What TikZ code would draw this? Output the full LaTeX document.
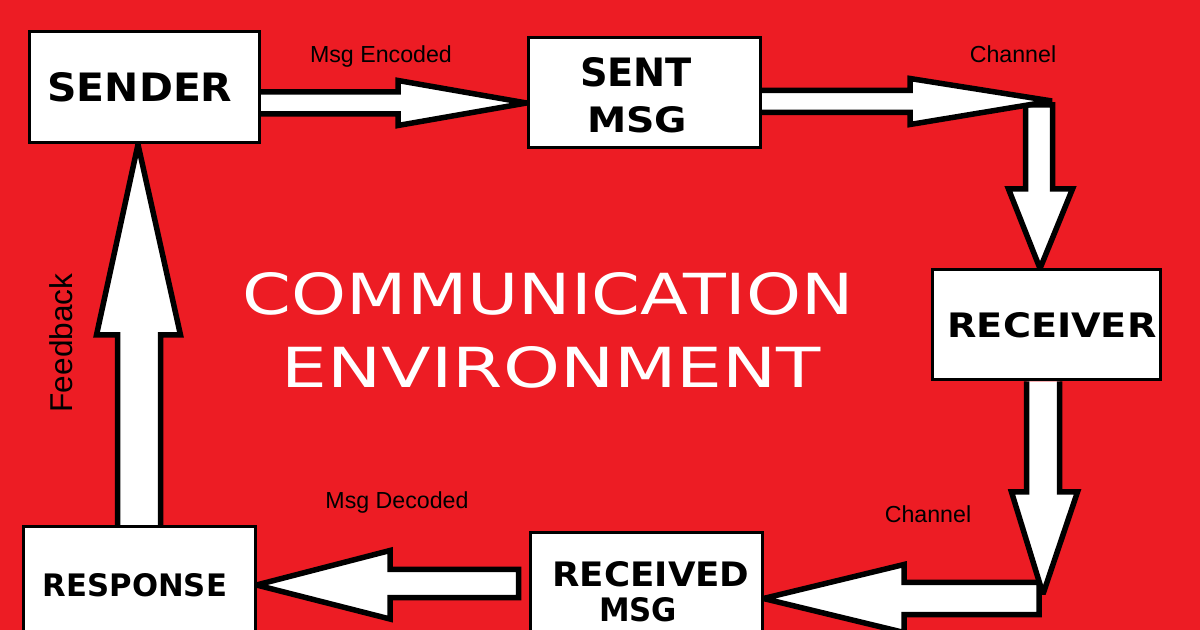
\documentclass[tikz,border=0pt]{standalone}
\usepackage{fontspec}
\setmainfont{Liberation Sans}
\newfontfamily\boxfont{DejaVu Sans}
\newfontfamily\envfont{DejaVu Sans}
\usetikzlibrary{calc,backgrounds}
\definecolor{bgred}{RGB}{237,28,36}
\newcommand\fitword[3]{\resizebox{#1pt}{#2pt}{#3}}
\begin{document}
\begin{tikzpicture}[x=0.5pt,y=-0.5pt,
  box/.style={draw=black,fill=white,line width=1.5pt,inner sep=0pt,rectangle},
  boxtxt/.style={inner sep=0pt,font=\boxfont\bfseries},
  blk/.style={fill=white,draw=black,line width=2.75pt,line join=miter,miter limit=3},
  lbl/.style={inner sep=0pt,font=\fontsize{11.6pt}{13pt}\selectfont},
  fbl/.style={inner sep=0pt,font=\fontsize{15.8pt}{18pt}\selectfont},
  envtxt/.style={inner sep=0pt,text=white,font=\envfont}]
\useasboundingbox (0,0) rectangle (1200,630);

% boxes
\node[box,minimum width=115pt,minimum height=55.5pt] (sender) at (144,87.5) {};
\node[boxtxt] (sendertxt) at (140,87.5) {\fitword{92.5}{14.5}{SENDER}};
\node[box,minimum width=116pt,minimum height=55pt] (sent) at (644,93) {};
\node[boxtxt] (senttop) at (636,72.5) {\fitword{56}{14.5}{SENT}};
\node[boxtxt] (sentbot) at (637,120) {\fitword{50}{13}{MSG}};
\node[box,minimum width=114pt,minimum height=55pt] (receiver) at (1046,325) {};
\node[boxtxt] (receivertxt) at (1052,325.5) {\fitword{104.5}{12.5}{RECEIVER}};
\node[box,minimum width=116pt,minimum height=60pt] (received) at (646,593) {};
\node[boxtxt] (receivedtop) at (651,574) {\fitword{98.5}{12.5}{RECEIVED}};
\node[boxtxt] (receivedbot) at (638,609.5) {\fitword{39}{12}{MSG}};
\node[box,minimum width=116pt,minimum height=60pt] (response) at (139,587) {};
\node[boxtxt] (responsetxt) at (135,585) {\fitword{92}{11.5}{RESPONSE}};

% labels
\node[lbl,anchor=base] (enc) at (381,63) {Msg Encoded};
\node[lbl,anchor=base] (chtop) at (1013,63) {Channel};
\node[lbl,anchor=base] (chbot) at (928,523) {Channel};
\node[lbl,anchor=base] (dec) at (397,509) {Msg Decoded};
\node[fbl,rotate=90,anchor=base] (fb) at (72,343) {Feedback};

% centre title
\node[envtxt] (comm) at (548.5,294) {\fitword{305.5}{21}{COMMUNICATION}};
\node[envtxt] (envi) at (551.5,367.5) {\fitword{269.5}{20.5}{ENVIRONMENT}};

\begin{pgfonlayer}{background}
\fill[bgred] (0,0) rectangle (1200,630);
\coordinate (c1) at (1052,101);
\coordinate (c2) at (1042,598);
\coordinate (r6) at ($(received.west)+(-10,0)$);
% corner -> receiver
\filldraw[blk] ($(c1)+(-26.5,4)$) -- (1025.5,189) -- (1008.5,189) -- (1040,0 |- receiver.north) -- (1072.5,189) -- (1052.5,189) -- ($(c1)+(0.5,4)$) -- cycle;
% sent -> corner
\filldraw[blk] (sent.east |- 0,90.5) -- (910,90.5) -- (910,78.5) -- (c1) -- (910,124.5) -- (910,112.5) -- (sent.east |- 0,112.5);
% corner -> received
\filldraw[blk] ($(c2)+(-3,-15.5)$) -- (904,582.5) -- (904,564.5) -- (received.east |- 0,598.5) -- (904,632.5) -- (904,614.5) -- ($(c2)+(-3,16.5)$) -- cycle;
% receiver -> corner
\filldraw[blk] (1026.5,0 |- receiver.south) -- (1026.5,492) -- (1011.5,492) -- ($(c2)+(1,-4)$) -- (1077.5,492) -- (1059.5,492) -- (1059.5,0 |- receiver.south);
% sender -> sent
\filldraw[blk] (sender.east |- 0,92) -- (398,92) -- (398,80.5) -- (sent.west |- 0,103) -- (398,125.5) -- (398,114) -- (sender.east |- 0,114);
% received -> response
\filldraw[blk] (r6 |- 0,569.5) -- (390,569.5) -- (390,550.5) -- (response.east |- 0,585) -- (390,619) -- (390,597.5) -- (r6 |- 0,597.5) -- cycle;
% response -> sender
\filldraw[blk] (117.5,0 |- response.north) -- (117.5,335) -- (96.5,335) -- (138,0 |- sender.south) -- (180.5,335) -- (160.5,335) -- (160.5,0 |- response.north);
\end{pgfonlayer}
\end{tikzpicture}
\end{document}
